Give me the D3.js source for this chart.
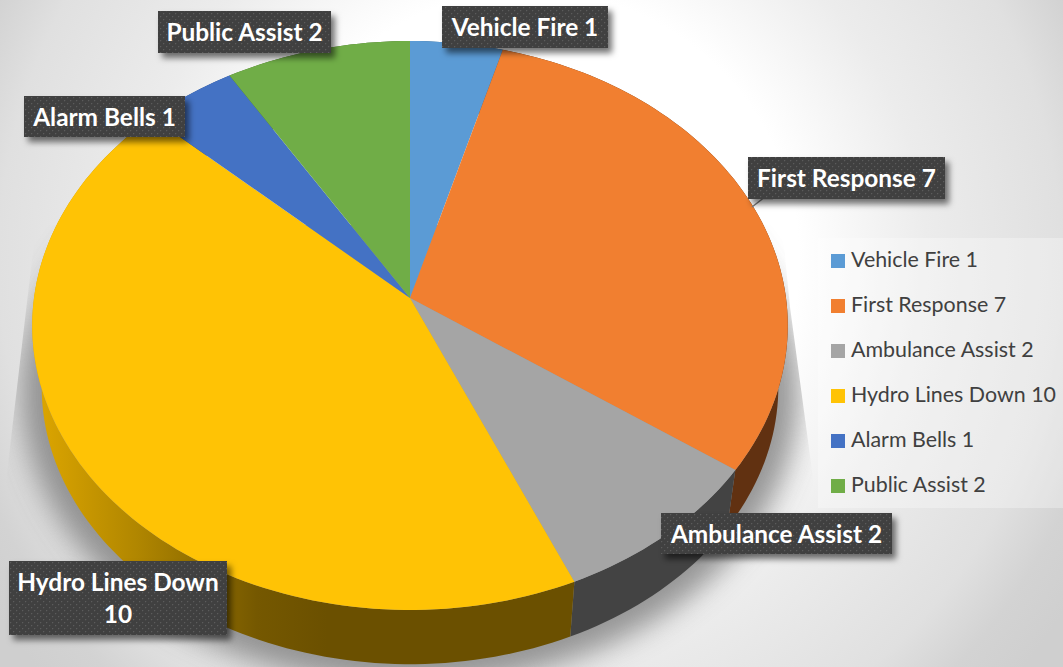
<!DOCTYPE html>
<html>
<head>
<meta charset="utf-8">
<style>
html,body{margin:0;padding:0;background:#fff;overflow:hidden}
svg{display:block}
text{font-family:Lato,"Open Sans",sans-serif}
</style>
<script src="https://cdn.jsdelivr.net/npm/d3@7"></script>
</head>
<body>
<svg id="chart" width="1063" height="667"></svg>
<script>
const categories = ["Vehicle Fire","First Response","Ambulance Assist","Hydro Lines Down","Alarm Bells","Public Assist"];
const values = [1,7,2,10,1,2];
const colors = ["#5b9bd5","#f17f30","#a5a5a5","#ffc305","#4472c4","#70ad47"];
const sideColors = ["#2f5f8a","#613111","#434343","url(#yellowSide)","#2a4a80","#456b2b"];
// label boxes: [x0,y0,x1,y1]
const labelBoxes = [[442,6,608,48],[748,157,945,199],[661,513,892,554],[9,561,227,635],[24,96,185,137],[158,11,331,53]];
const labelLines = [[`${categories[0]} ${values[0]}`],[`${categories[1]} ${values[1]}`],[`${categories[2]} ${values[2]}`],[categories[3],`${values[3]}`],[`${categories[4]} ${values[4]}`],[`${categories[5]} ${values[5]}`]];

const W=1063,H=667;
const svg=d3.select("#chart");
const defs=svg.append("defs");

// perspective projection of the unit disc
const apex={x:410,y:298}, A=376, B=281.8, K=0.0967;
function proj(theta,scale=1,dy=0){
  const X=Math.sin(theta),Y=-Math.cos(theta),den=1-K*Y;
  return [apex.x+scale*A*X/den, apex.y+dy+scale*B*Y/den];
}
const lower={scale:0.975,dy:62};

const bg=defs.append("radialGradient").attr("id","bg").attr("gradientUnits","userSpaceOnUse")
  .attr("cx",530).attr("cy",260).attr("r",640);
[[0,"#ffffff"],[0.42,"#ffffff"],[0.62,"#ececec"],[0.83,"#e0e0e0"],[0.92,"#d3d3d3"],[1,"#cfcfcf"]]
  .forEach(s=>bg.append("stop").attr("offset",s[0]).attr("stop-color",s[1]));

const ys=defs.append("linearGradient").attr("id","yellowSide").attr("gradientUnits","userSpaceOnUse")
  .attr("x1",30).attr("x2",570).attr("y1",0).attr("y2",0);
[[0,"#e0a800"],[0.2,"#b08600"],[0.42,"#755800"],[0.55,"#6b5000"],[1,"#6b5000"]]
  .forEach(s=>ys.append("stop").attr("offset",s[0]).attr("stop-color",s[1]));

defs.append("filter").attr("id","blur").attr("x","-20%").attr("y","-20%").attr("width","140%").attr("height","140%")
  .append("feGaussianBlur").attr("stdDeviation",14);
const ds=defs.append("filter").attr("id","labelShadow").attr("x","-15%").attr("y","-30%").attr("width","130%").attr("height","170%");
ds.append("feDropShadow").attr("dx",4).attr("dy",5).attr("stdDeviation",3).attr("flood-color","#000").attr("flood-opacity",0.55);

const pat=defs.append("pattern").attr("id","dots").attr("width",6).attr("height",6).attr("patternUnits","userSpaceOnUse");
pat.append("rect").attr("width",6).attr("height",6).attr("fill","#404040");
pat.append("rect").attr("x",1).attr("y",1).attr("width",1.2).attr("height",1.2).attr("fill","#5c5c5c");
pat.append("rect").attr("x",4).attr("y",4).attr("width",1.2).attr("height",1.2).attr("fill","#5c5c5c");

defs.append("clipPath").attr("id","shadowClip").append("polygon")
  .attr("points","36,225 782,225 790,307 815,493 840,667 0,667 5,490");

svg.append("rect").attr("width",W).attr("height",H).attr("fill","url(#bg)");

const pie=d3.pie().sort(null).value(d=>d);
const arcs=pie(values);
const line=d3.line();
const sample=(a0,a1,n)=>d3.range(n+1).map(i=>a0+(a1-a0)*i/n);
const full=sample(0,2*Math.PI,240);

// shadow
svg.append("g").attr("clip-path","url(#shadowClip)")
  .append("path")
  .attr("d",line(full.map(t=>proj(t,1.03,66)))+"Z")
  .attr("fill","#858585").attr("opacity",0.85).attr("filter","url(#blur)");

// sides
svg.append("g").selectAll("path").data(arcs).join("path")
  .attr("d",d=>{
    const n=Math.max(4,Math.ceil((d.endAngle-d.startAngle)*40));
    const ts=sample(d.startAngle,d.endAngle,n);
    return line(ts.map(t=>proj(t)).concat(ts.slice().reverse().map(t=>proj(t,lower.scale,lower.dy))))+"Z";
  })
  .attr("fill",(d,i)=>sideColors[i]);

// top
svg.append("g").selectAll("path").data(arcs).join("path")
  .attr("d",d=>{
    const n=Math.max(4,Math.ceil((d.endAngle-d.startAngle)*40));
    return line([[apex.x,apex.y]].concat(sample(d.startAngle,d.endAngle,n).map(t=>proj(t))))+"Z";
  })
  .attr("fill",(d,i)=>colors[i]);

// leader line
svg.append("path").attr("d","M752,207L763,198.5L773,198.5").attr("fill","none").attr("stroke","#7f7f7f").attr("stroke-width",1.5);

// legend
const lg=svg.append("g");
lg.append("rect").attr("x",818).attr("y",238).attr("width",245).attr("height",270).attr("fill","#fff").attr("fill-opacity",0.3);
const ly=d3.scalePoint().domain(categories).range([261,486]);
const li=lg.selectAll("g").data(categories).join("g").attr("transform",d=>`translate(0,${ly(d)})`);
li.append("rect").attr("x",831).attr("y",-7).attr("width",14).attr("height",14).attr("fill",(d,i)=>colors[i]);
li.append("text").attr("x",851).attr("y",6).attr("font-size",21.4).attr("fill","#404040").text((d,i)=>`${d} ${values[i]}`);

// data labels
const lb=svg.append("g").selectAll("g").data(labelLines).join("g");
lb.append("rect")
  .attr("x",(d,i)=>labelBoxes[i][0]).attr("y",(d,i)=>labelBoxes[i][1])
  .attr("width",(d,i)=>labelBoxes[i][2]-labelBoxes[i][0]).attr("height",(d,i)=>labelBoxes[i][3]-labelBoxes[i][1])
  .attr("fill","url(#dots)").attr("filter","url(#labelShadow)");
lb.each(function(lines,i){
  const b=labelBoxes[i],cx=(b[0]+b[2])/2;
  lines.forEach((t,j)=>{
    d3.select(this).append("text").attr("x",cx).attr("y",b[1]+29.5+j*32)
      .attr("text-anchor","middle").attr("font-size",24.4).attr("font-weight",700).attr("fill","#fff").text(t);
  });
});
</script>
</body>
</html>
